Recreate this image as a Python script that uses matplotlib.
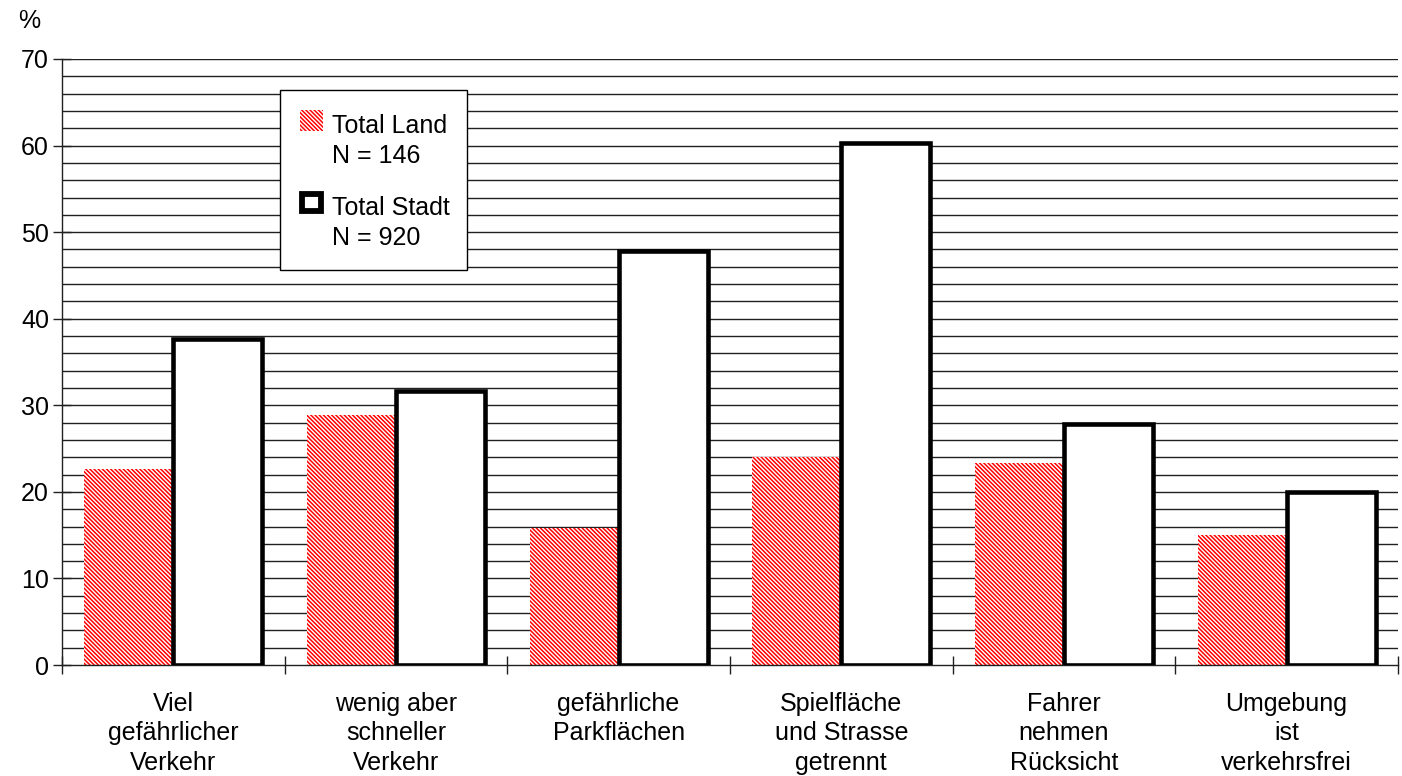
import matplotlib
matplotlib.use("Agg")
import matplotlib.pyplot as plt
from matplotlib.patches import Patch, Rectangle
import numpy as np

categories = [
    "Viel\ngefährlicher\nVerkehr",
    "wenig aber\nschneller\nVerkehr",
    "gefährliche\nParkflächen",
    "Spielfläche\nund Strasse\ngetrennt",
    "Fahrer\nnehmen\nRücksicht",
    "Umgebung\nist\nverkehrsfrei",
]
land = [22.6, 28.9, 15.8, 24.0, 23.3, 15.0]
stadt = [37.6, 31.7, 47.8, 60.3, 27.8, 20.0]
series_labels = ["Total Land\nN = 146", "Total Stadt\nN = 920"]
y_ticks = [0, 10, 20, 30, 40, 50, 60, 70]

plt.rcParams["font.family"] = ["Liberation Sans", "DejaVu Sans"]
plt.rcParams["hatch.linewidth"] = 1.1

FS = 18
HATCH = "\\" * 8

fig = plt.figure(figsize=(14.02, 7.76), dpi=100)
ax = fig.add_axes([0.0442, 0.1430, 0.9529, 0.7810])

x = np.arange(len(categories))
w = 0.4

# horizontal rules every 2 %
for yv in np.arange(2, 71, 2):
    ax.axhline(yv, color="#202020", lw=1.0, zorder=1)

ax.bar(x - w / 2, land, width=w, align="center", facecolor="white",
       edgecolor="#ff0000", hatch=HATCH, linewidth=0, zorder=2)
ax.bar(x + w / 2, stadt, width=w, align="center", facecolor="white",
       edgecolor="black", linewidth=3.3, zorder=3)

ax.set_xlim(-0.5, len(categories) - 0.5)
ax.set_ylim(0, 70)

for s in ["top", "right"]:
    ax.spines[s].set_visible(False)
for s in ["left", "bottom"]:
    ax.spines[s].set_color("#202020")
    ax.spines[s].set_linewidth(1.0)

ax.set_yticks(y_ticks)
ax.set_yticklabels([str(v) for v in y_ticks], fontsize=FS)
ax.tick_params(axis="y", direction="inout", length=12.5, width=1.0,
               color="#202020", pad=3)

ax.set_xticks(np.arange(-0.5, len(categories), 1.0))
ax.set_xticklabels([])
ax.tick_params(axis="x", direction="inout", length=12.5, width=1.0,
               color="#202020")

for i, lab in enumerate(categories):
    ax.text(i, -3.06, lab, ha="center", va="top", fontsize=FS,
            linespacing=1.29, clip_on=False)

fig.text(29 / 1402, 1 - 21 / 776, "%", ha="center", va="center", fontsize=FS)

# legend box: white panel with a thin black border
ax.add_patch(Rectangle((0.1632, 0.6518), 0.1400, 0.2970,
                       transform=ax.transAxes, facecolor="white",
                       edgecolor="black", linewidth=1.0, zorder=4,
                       clip_on=False))

handles = [
    Patch(facecolor="white", edgecolor="#ff0000", hatch=HATCH, linewidth=0),
    Patch(facecolor="white", edgecolor="black", linewidth=4.2),
]
leg = ax.legend(handles, series_labels, loc="upper left",
                bbox_to_anchor=(0.1632, 0.9422), fontsize=FS, frameon=False,
                borderpad=0.8, labelspacing=1.12, handlelength=0.92,
                handleheight=0.92, handletextpad=0.35, borderaxespad=0.0)
leg.set_zorder(5)
for t in leg.get_texts():
    t.set_linespacing(1.31)
for h in leg.legend_handles:
    h.set_y(h.get_y() + 15.3)
# the outlined key is drawn slightly inset so its thick border fits the key box
inset = 1.6
hs = leg.legend_handles[1]
hs.set_x(hs.get_x() + inset)
hs.set_y(hs.get_y() + inset)
hs.set_width(hs.get_width() - 2 * inset)
hs.set_height(hs.get_height() - 2 * inset)

fig.savefig("out.png", dpi=100)
